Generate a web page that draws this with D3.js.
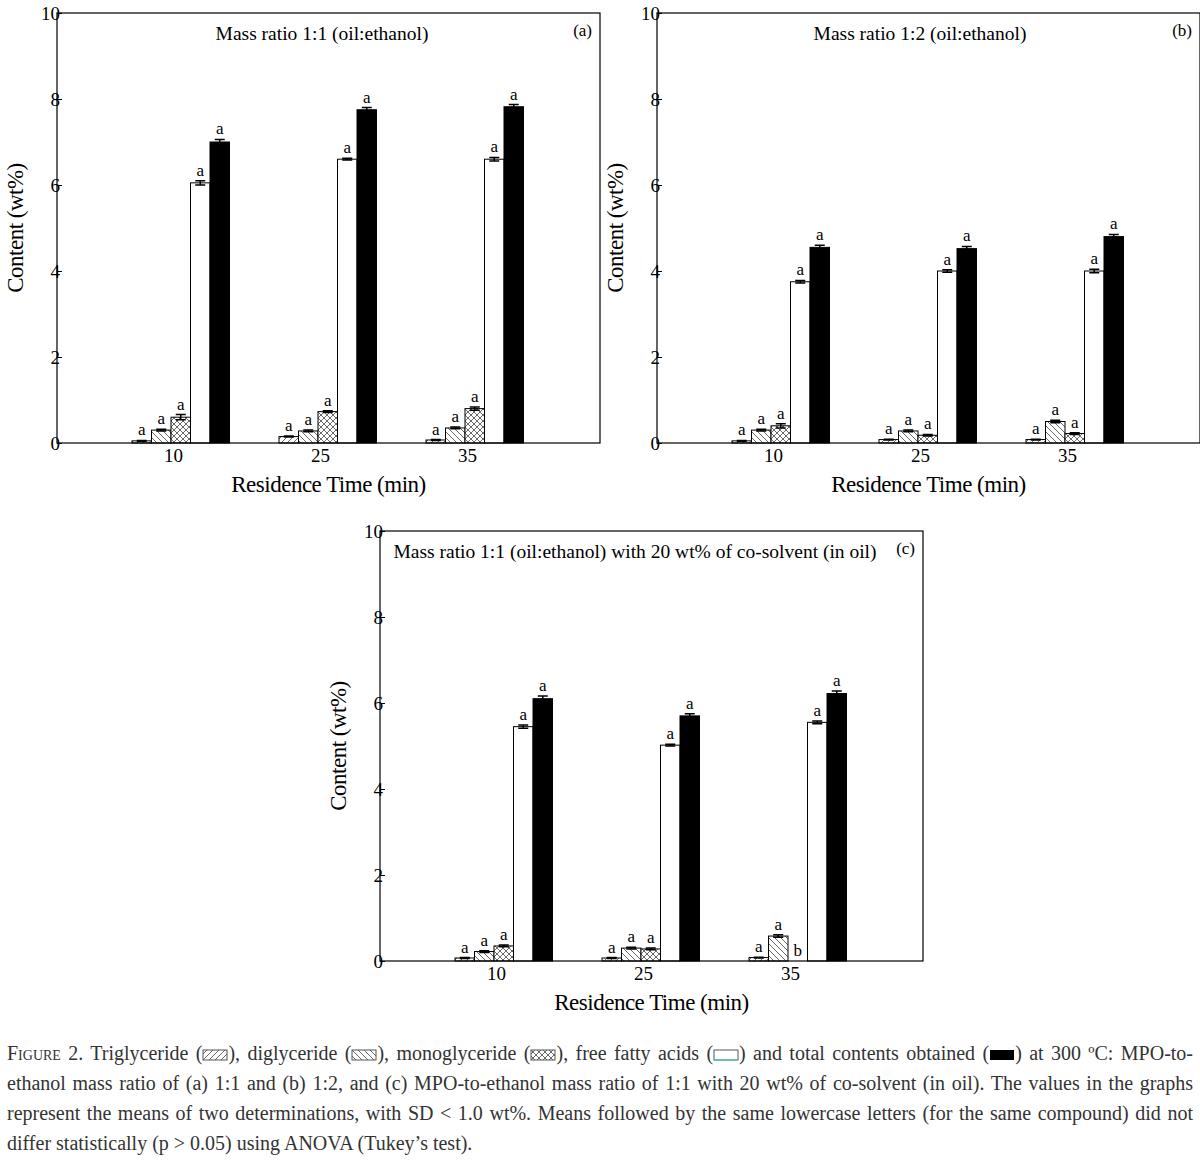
<!DOCTYPE html>
<html>
<head>
<style>
  body { margin: 0; background: #fff; font-family: "Liberation Serif", "Times New Roman", serif; }
  svg text { font-family: "Liberation Serif", serif; }
  .caption { position: absolute; left: 7px; top: 1038px; width: 1186px; font-size: 20px; line-height: 30px; color: #333; text-align: justify; }
  .caption svg { vertical-align: -1px; }
  .sc { font-variant: small-caps; }
</style>
</head>
<body>
<svg id="chart" width="1200" height="1030"></svg>
<div class="caption"><span class="sc">Figure</span> 2. Triglyceride (<svg width="26" height="12"><rect x="1" y="1" width="24" height="10" fill="url(#tg)" stroke="#555"/></svg>), diglyceride (<svg width="26" height="12"><rect x="1" y="1" width="24" height="10" fill="url(#dg)" stroke="#555"/></svg>), monoglyceride (<svg width="26" height="12"><rect x="1" y="1" width="24" height="10" fill="url(#mg)" stroke="#555"/></svg>), free fatty acids (<svg width="26" height="12"><rect x="1" y="1" width="24" height="10" fill="#fff" stroke="#555"/><line x1="1" x2="25" y1="11" y2="11" stroke="#3cc"/></svg>) and total contents obtained (<svg width="26" height="12"><rect x="1" y="1" width="24" height="10" fill="#000"/></svg>) at 300 ºC: MPO-to-ethanol mass ratio of (a) 1:1 and (b) 1:2, and (c) MPO-to-ethanol mass ratio of 1:1 with 20 wt% of co-solvent (in oil). The values in the graphs represent the means of two determinations, with SD &lt; 1.0 wt%. Means followed by the same lowercase letters (for the same compound) did not differ statistically (p &gt; 0.05) using ANOVA (Tukey’s test).</div>
<script src="https://d3js.org/d3.v7.min.js"></script>
<script>
var times = ['10', '25', '35'];
var compounds = ['TG', 'DG', 'MG', 'FFA', 'Total'];
var yTicks = [0, 2, 4, 6, 8, 10];

// values per time: TG, DG, MG, FFA, Total
var valuesA = [[0.05, 0.30, 0.60, 6.05, 7.00], [0.15, 0.28, 0.73, 6.60, 7.75], [0.07, 0.35, 0.80, 6.60, 7.82]];
var valuesB = [[0.05, 0.30, 0.40, 3.75, 4.55], [0.08, 0.28, 0.18, 4.00, 4.52], [0.08, 0.50, 0.22, 4.00, 4.80]];
var valuesC = [[0.07, 0.22, 0.35, 5.45, 6.10], [0.07, 0.30, 0.28, 5.02, 5.70], [0.08, 0.58, 0.00, 5.55, 6.22]];
var errA = [[0.01, 0.02, 0.06, 0.05, 0.06], [0.01, 0.02, 0.02, 0.02, 0.05], [0.01, 0.02, 0.04, 0.04, 0.05]];
var errB = [[0.01, 0.02, 0.05, 0.03, 0.05], [0.01, 0.02, 0.02, 0.03, 0.05], [0.01, 0.03, 0.02, 0.04, 0.05]];
var errC = [[0.01, 0.02, 0.02, 0.04, 0.06], [0.01, 0.02, 0.02, 0.02, 0.05], [0.01, 0.03, 0.00, 0.03, 0.06]];
var lettersA = [['a','a','a','a','a'], ['a','a','a','a','a'], ['a','a','a','a','a']];
var lettersB = lettersA;
var lettersC = [['a','a','a','a','a'], ['a','a','a','a','a'], ['a','a','b','a','a']];

var svg = d3.select('#chart');
var defs = svg.append('defs');
function hatch(id, paths, size) {
  var p = defs.append('pattern').attr('id', id).attr('patternUnits', 'userSpaceOnUse')
    .attr('width', size).attr('height', size);
  p.append('rect').attr('width', size).attr('height', size).attr('fill', '#fff');
  paths.forEach(function(d) { p.append('path').attr('d', d).attr('stroke', '#444').attr('stroke-width', 0.8); });
}
hatch('tg', ['M0,6 L6,0', 'M-1,1 L1,-1', 'M5,7 L7,5'], 6);
hatch('dg', ['M0,0 L6,6', 'M-1,5 L1,7', 'M5,-1 L7,1'], 6);
hatch('mg', ['M0,0 L6,6', 'M0,6 L6,0'], 6);
var fills = ['url(#tg)', 'url(#dg)', 'url(#mg)', '#fff', '#000'];
// copy patterns into caption swatches
d3.selectAll('.caption svg').each(function() { this.insertBefore(defs.node().cloneNode(true), this.firstChild); });

function panel(x0, y0, title, tag, vals, errs, letters) {
  var w = 543, h = 430;
  var g = svg.append('g').attr('transform', 'translate(' + x0 + ',' + y0 + ')');
  var x = d3.scalePoint().domain(times).range([116, 410]);
  var y = d3.scaleLinear().domain([0, 10]).range([h, 0]);
  var bw = 19.5;
  times.forEach(function(t, i) {
    var grp = g.append('g');
    compounds.forEach(function(c, j) {
      var bx = x(t) - 41 + j * bw, v = vals[i][j], e = errs[i][j];
      grp.append('rect').attr('x', bx).attr('y', y(v)).attr('width', bw).attr('height', h - y(v))
        .attr('fill', fills[j]).attr('stroke', '#000').attr('stroke-width', 1);
      var cx = bx + bw / 2;
      if (e > 0) {
        grp.append('path').attr('d', 'M' + cx + ',' + y(v + e) + 'V' + y(v - e) +
          'M' + (cx - 5) + ',' + y(v + e) + 'h10M' + (cx - 5) + ',' + y(v - e) + 'h10')
          .attr('stroke', '#000').attr('stroke-width', 1.5).attr('fill', 'none');
      }
      grp.append('text').attr('x', cx).attr('y', y(v + e) - 5).attr('text-anchor', 'middle')
        .attr('font-size', 17).text(letters[i][j]);
    });
  });
  g.append('rect').attr('width', w).attr('height', h).attr('fill', 'none').attr('stroke', '#000').attr('stroke-width', 1.2);
  var ya = g.append('g').call(d3.axisLeft(y).tickValues(yTicks).tickSize(-5).tickPadding(-3).tickFormat(d3.format('d')));
  ya.select('.domain').remove();
  ya.selectAll('text').attr('font-size', 19).attr('font-family', 'Liberation Serif');
  var xa = g.append('g').attr('transform', 'translate(0,' + h + ')').call(d3.axisBottom(x).tickSize(0).tickPadding(6));
  xa.select('.domain').remove();
  xa.selectAll('text').attr('font-size', 19).attr('font-family', 'Liberation Serif');
  g.append('text').attr('x', w / 2 - 0).attr('y', h + 49).attr('text-anchor', 'middle').attr('font-size', 23)
    .attr('letter-spacing', -0.5).text('Residence Time (min)');
  g.append('text').attr('transform', 'translate(-34,' + (h / 2) + ') rotate(-90)').attr('text-anchor', 'middle')
    .attr('font-size', 23).attr('letter-spacing', -0.5).text('Content (wt%)');
  g.append('text').attr('x', title.cx).attr('y', 27).attr('text-anchor', 'middle').attr('font-size', 19.5)
    .text(title.t);
  g.append('text').attr('x', w - 8).attr('y', 23).attr('text-anchor', 'end').attr('font-size', 17).text(tag);
}
panel(57, 13, { t: 'Mass ratio 1:1 (oil:ethanol)', cx: 265 }, '(a)', valuesA, errA, lettersA);
panel(657, 13, { t: 'Mass ratio 1:2 (oil:ethanol)', cx: 263 }, '(b)', valuesB, errB, lettersB);
panel(380, 531, { t: 'Mass ratio 1:1 (oil:ethanol) with 20 wt% of co-solvent (in oil)', cx: 255 }, '(c)', valuesC, errC, lettersC);
</script>
</body>
</html>
